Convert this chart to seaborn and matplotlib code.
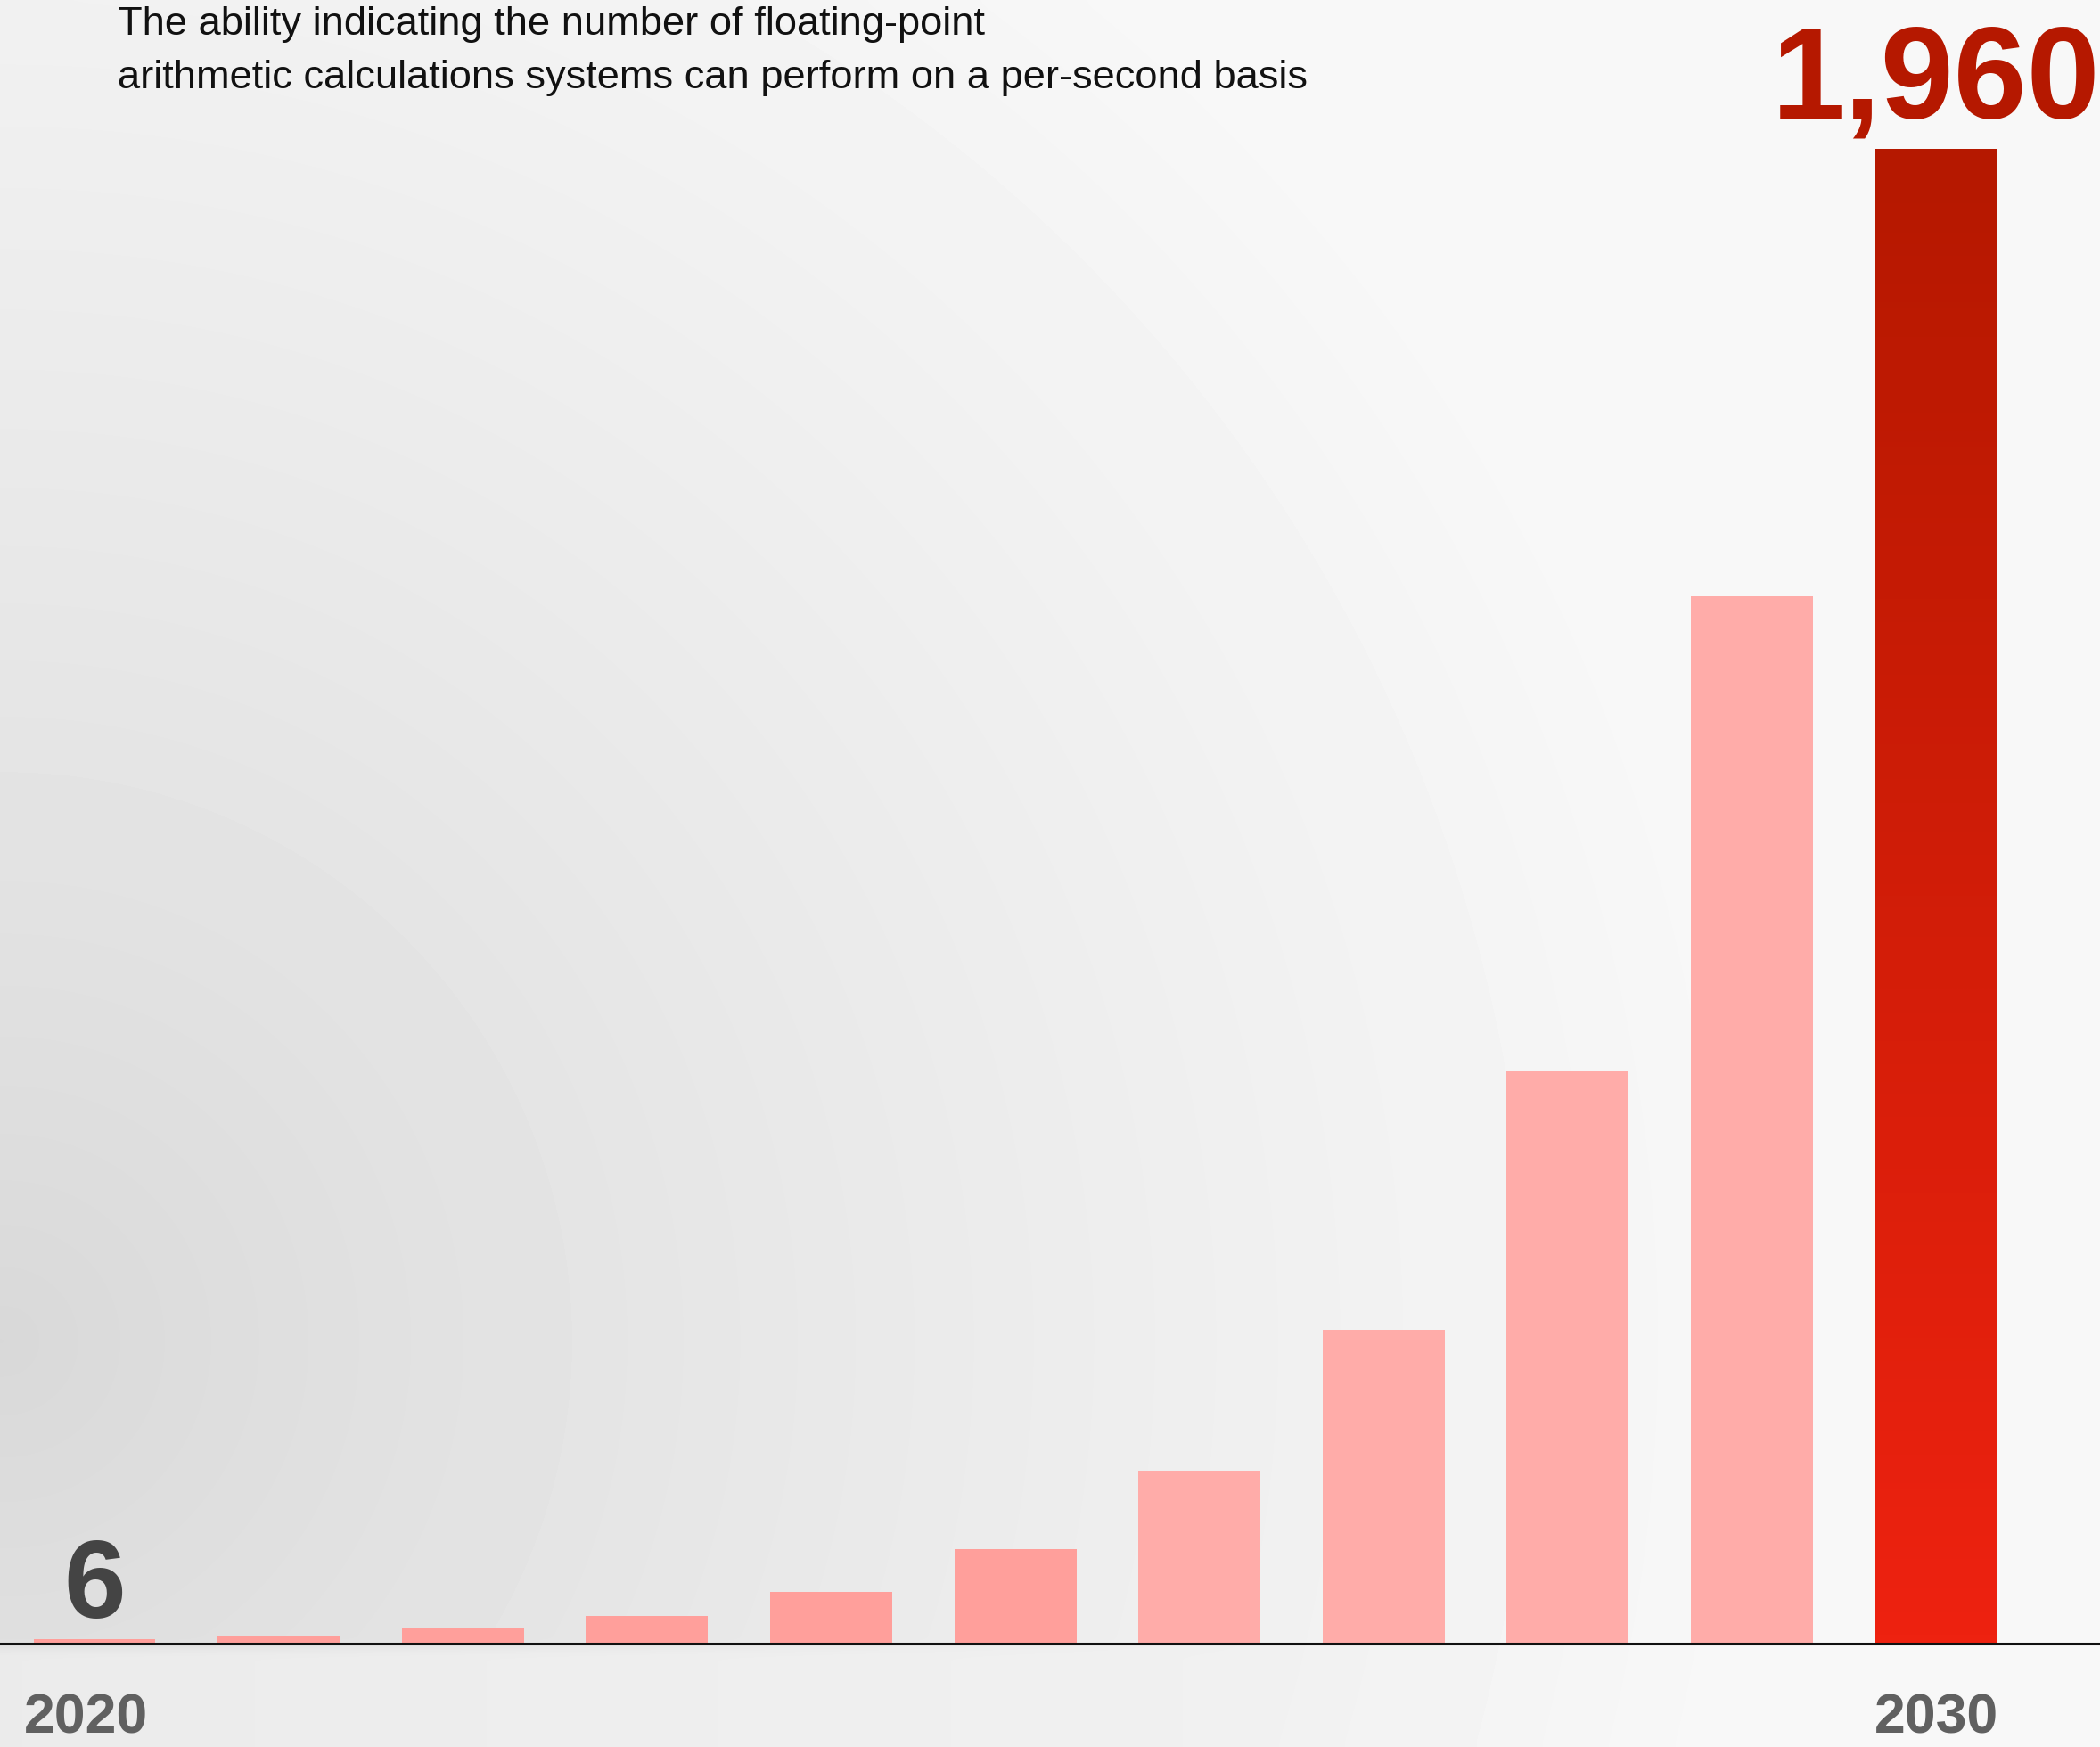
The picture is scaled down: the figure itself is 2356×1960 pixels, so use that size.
import numpy as np
import pandas as pd
import matplotlib
matplotlib.use("Agg")
import matplotlib.pyplot as plt
import matplotlib.transforms as mtransforms
from matplotlib.colors import LinearSegmentedColormap
import seaborn as sns

# ---- data ----
years = ["2020", "2021", "2022", "2023", "2024", "2025", "2026", "2027", "2028", "2029", "2030"]
values = [6, 9, 21, 36, 68, 124, 227, 411, 750, 1373, 1960]
bar_colors = ["#FF9F9B", "#FF9F9B", "#FF9F9B", "#FF9F9B", "#FF9F9B", "#FF9F9B",
              "#FFACA9", "#FFACA9", "#FFACA9", "#FFACA9", "#D81E08"]
tick_positions = [0, 10]
tick_labels = ["2020", "2030"]
subtitle = ("The ability indicating the number of floating-point\n"
            "arithmetic calculations systems can perform on a per-second basis")
first_label = "6"
last_label = "1,960"

sns.set_theme(style="white")
plt.rcParams["font.family"] = ["Liberation Sans", "DejaVu Sans"]

W, H, DPI = 2356, 1960, 100
fig = plt.figure(figsize=(W / DPI, H / DPI), dpi=DPI)

# ---- background gradient ----
bg = fig.add_axes([0, 0, 1, 1], zorder=0)
yy, xx = np.mgrid[0:H:10, 0:W:10]
r = np.sqrt((xx / 2300.0) ** 2 + ((yy - 1500) / 2300.0) ** 2)
val = 216 + 36 * r ** 0.85
val = np.clip(val, 0, 248)
below = yy > 1844
val = np.where(below, np.maximum(val, 235 + 9 * (xx / W)), val)
bg.imshow(val / 255.0, cmap="gray", vmin=0, vmax=1, extent=[0, 1, 0, 1],
          aspect="auto", interpolation="bicubic")
bg.set_axis_off()

# ---- main axes ----
ax = fig.add_axes([0, (H - 1844) / H, 1, 1844 / H], zorder=1)
ax.set_facecolor("none")
df = pd.DataFrame({"year": years, "value": values})
sns.barplot(data=df, x="year", y="value", hue="year", palette=bar_colors,
            legend=False, width=0.663, saturation=1, linewidth=0, edgecolor="none", ax=ax)

# gradient on last bar
last = ax.patches[-1]
bx, bw, bh = last.get_x(), last.get_width(), last.get_height()
grad_cmap = LinearSegmentedColormap.from_list("g", ["#EE2210", "#B51800"])
grad = np.linspace(0, 1, 256).reshape(-1, 1)
im = ax.imshow(grad, cmap=grad_cmap, origin="lower", extent=[bx, bx + bw, 0, bh],
               aspect="auto", zorder=3, interpolation="bilinear")
im.set_clip_path(last)
ax.set_xlim(-0.513, 10.89)
ax.set_ylim(0, 2155)

# spines / ticks
for s in ["top", "right", "left"]:
    ax.spines[s].set_visible(False)
ax.spines["bottom"].set_color("#111111")
ax.spines["bottom"].set_linewidth(2.2)
ax.spines["bottom"].set_zorder(5)
ax.set_yticks([])
ax.set_xticks(tick_positions)
ax.set_xticklabels(tick_labels, fontsize=45, fontweight="bold", color="#606060")
ax.tick_params(axis="x", length=0, pad=39)
ax.set_xlabel("")
ax.set_ylabel("")
lbl0 = ax.get_xticklabels()[0]
lbl0.set_transform(lbl0.get_transform() + mtransforms.ScaledTranslation(-9 / DPI, 0, fig.dpi_scale_trans))

# value labels
ax.annotate(first_label, xy=(0, values[0]), xytext=(0, 17), textcoords="offset points",
            ha="center", va="baseline", fontsize=90, fontweight="bold", color="#444444")
ax.annotate(last_label, xy=(10, values[-1]), xytext=(0, 25), textcoords="offset points",
            ha="center", va="baseline", fontsize=106, fontweight="bold", color="#B51800",
            annotation_clip=False)

fig.text(132 / W, 1 - 7 / H, subtitle, ha="left", va="top", fontsize=32.6,
         color="#111111", linespacing=1.58)

fig.savefig("out.png", dpi=DPI)
